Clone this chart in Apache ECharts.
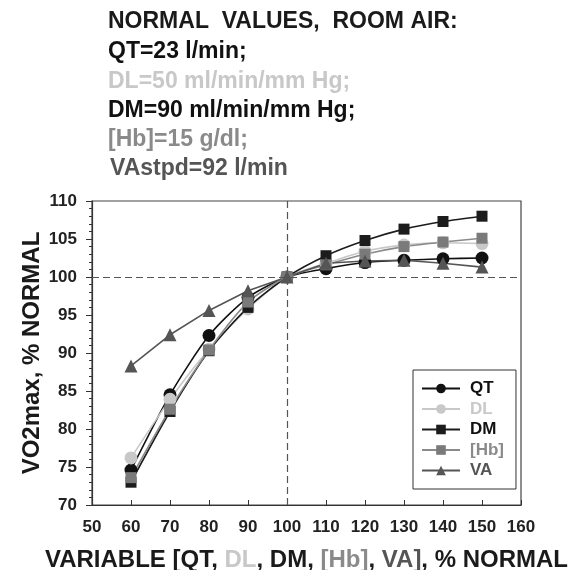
<!DOCTYPE html>
<html>
<head>
<meta charset="utf-8">
<script src="https://cdn.jsdelivr.net/npm/echarts@6/dist/echarts.min.js"></script>
<style>html,body{margin:0;padding:0;background:#fff}#c{width:577px;height:570px}</style>
</head>
<body>
<div id="c"></div>
<script>
var categories = [60, 70, 80, 90, 100, 110, 120, 130, 140, 150];
var QT = [74.6, 84.5, 92.3, 97.3, 100, 101.1, 101.9, 102.2, 102.4, 102.5];
var DL = [76.2, 83.9, 90.5, 95.8, 100, 101.8, 103.4, 104.2, 104.5, 104.4];
var DM = [73.0, 82.3, 90.3, 96.0, 100, 102.8, 104.8, 106.3, 107.3, 108.0];
var Hb = [73.6, 82.6, 90.4, 96.7, 100, 101.6, 103.0, 104.0, 104.6, 105.1];
var VA = [88.3, 92.4, 95.6, 98.2, 100, 101.8, 102.1, 102.2, 101.8, 101.3];
var headerLines = ['NORMAL  VALUES,  ROOM AIR:', 'QT=23 l/min;', 'DL=50 ml/min/mm Hg;', 'DM=90 ml/min/mm Hg;', '[Hb]=15 g/dl;', 'VAstpd=92 l/min'];

function pairs(arr){ return categories.map(function(x,i){ return [x, arr[i]]; }); }
var FONT = 'Liberation Sans, Arial, sans-serif';
var chart = echarts.init(document.getElementById('c'));

function mk(name, data, color, symbol, size, lineColor, smooth){
  return {
    name: name, type: 'line', data: pairs(data), symbol: symbol, symbolSize: size,
    smooth: smooth,
    itemStyle: {color: color},
    lineStyle: {color: lineColor || color, width: 1.6},
    z: 3
  };
}

var series = [
  mk('QT', QT, '#111111', 'circle', 13, '#111111', 0.25),
  mk('DL', DL, '#c8c8c8', 'circle', 13, '#c8c8c8', 0.25),
  mk('DM', DM, '#1c1c1c', 'rect', 11, '#1c1c1c', 0.25),
  mk('[Hb]', Hb, '#7a7a7a', 'rect', 11, '#8a8a8a', 0.25),
  mk('VA', VA, '#555555', 'triangle', 13, '#555555', 0)
];
series[0].markLine = {
  silent: true, symbol: 'none', label: {show: false},
  lineStyle: {type: [7, 4], color: '#555', width: 1.2},
  data: [{xAxis: 100}, {yAxis: 100}]
};

function hdr(i, y, color, x){
  return {type: 'text', x: x || 108, y: y, style: {text: headerLines[i], fill: color, font: 'bold 23px ' + FONT, textVerticalAlign: 'middle'}};
}

chart.setOption({
  animation: false,
  grid: {left: 92, right: 56, top: 201, bottom: 65, containLabel: false, outerBoundsMode: 'none',
         show: true, borderColor: '#444', borderWidth: 1.2, backgroundColor: 'transparent'},
  xAxis: {
    type: 'value', min: 50, max: 160, interval: 10,
    axisLine: {show: true, onZero: false, lineStyle: {color: '#333', width: 1.2}},
    axisTick: {show: true, inside: true, length: 5, lineStyle: {color: '#333'}},
    splitLine: {show: false},
    axisLabel: {color: '#222', fontFamily: FONT, fontWeight: 'bold', fontSize: 17, margin: 14},
    name: '{a|VARIABLE [QT, }{b|DL}{a|, DM, }{c|[Hb]}{a|, }{d|VA]}{a|, % NORMAL}',
    nameLocation: 'middle', nameGap: 43, nameMoveOverlap: false,
    nameTextStyle: {
      fontFamily: FONT, fontWeight: 'bold', fontSize: 24,
      rich: {
        a: {color: '#1a1a1a', fontFamily: FONT, fontWeight: 'bold', fontSize: 24},
        b: {color: '#c8c8c8', fontFamily: FONT, fontWeight: 'bold', fontSize: 24},
        c: {color: '#8a8a8a', fontFamily: FONT, fontWeight: 'bold', fontSize: 24},
        d: {color: '#555555', fontFamily: FONT, fontWeight: 'bold', fontSize: 24}
      }
    }
  },
  yAxis: {
    type: 'value', min: 70, max: 110, interval: 5,
    axisLine: {show: true, onZero: false, lineStyle: {color: '#333', width: 1.2}},
    axisTick: {show: true, length: 6, lineStyle: {color: '#333'}},
    minorTick: {show: true, splitNumber: 5, length: 3, lineStyle: {color: '#333'}},
    splitLine: {show: false},
    axisLabel: {color: '#222', fontFamily: FONT, fontWeight: 'bold', fontSize: 17, margin: 15},
    name: 'VO2max, % NORMAL', nameLocation: 'middle', nameGap: 48, nameMoveOverlap: false,
    nameTextStyle: {color: '#1a1a1a', fontFamily: FONT, fontWeight: 'bold', fontSize: 24}
  },
  legend: {
    orient: 'vertical', left: 413, top: 370, width: 104,
    padding: [10, 12, 10, 8], itemGap: 3.5, itemWidth: 38, itemHeight: 12,
    borderColor: '#333', borderWidth: 1, backgroundColor: '#fff',
    textStyle: {fontFamily: FONT, fontWeight: 'bold', fontSize: 17, padding: [0, 0, 0, 5]},
    data: [
      {name: 'QT', textStyle: {color: '#111'}},
      {name: 'DL', textStyle: {color: '#c8c8c8'}},
      {name: 'DM', textStyle: {color: '#111'}},
      {name: '[Hb]', textStyle: {color: '#8a8a8a'}},
      {name: 'VA', textStyle: {color: '#555'}}
    ]
  },
  graphic: [
    hdr(0, 22, '#1a1a1a'),
    hdr(1, 52, '#111'),
    hdr(2, 82, '#c8c8c8'),
    hdr(3, 111, '#111'),
    hdr(4, 140, '#8a8a8a'),
    hdr(5, 169, '#555', 110)
  ],
  series: series
});
</script>
</body>
</html>
